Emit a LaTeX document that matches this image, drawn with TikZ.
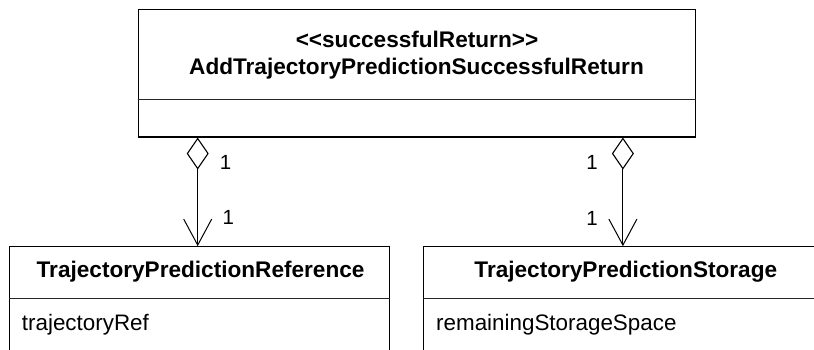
\documentclass[tikz,border=0pt]{standalone}
\usepackage{fontspec}
\setmainfont{Liberation Sans}
\usetikzlibrary{arrows.meta}
\begin{document}
\begin{tikzpicture}[x=1pt,y=-1pt,
  box/.style={draw=black,line width=1.1pt,minimum width=#1,inner sep=0pt,fill=none},
  clsname/.style={font=\fontsize{22.6}{27}\selectfont\bfseries,anchor=base,inner sep=0pt},
  attr/.style={font=\fontsize{22.4}{27}\selectfont,anchor=base west,inner sep=0pt},
  mult/.style={font=\fontsize{20.5}{24}\selectfont,inner sep=0pt},
  agg/.style={line width=1pt,{Diamond[open,length=32pt,width=22pt,line width=1.1pt]}-{Straight Barb[length=26pt,width=28pt,line width=1pt]}}
]
\useasboundingbox (0,0) rectangle (814,349);
\clip (0,0) rectangle (814,349);
\fill[white] (0,0) rectangle (814,349);
% top class
\node[box=557.7pt,minimum height=127.7pt] (ret) at (417,73.15) {};
\draw[line width=1pt,draw=black!85] (ret.west |- 0,99) coordinate (rdl) -- (ret.east |- 0,99) coordinate (rdr);
\node[clsname] (st) at (417,47) {{<}{<}successfulReturn{>}{>}};
\node[clsname] (rn) at (416.5,74.3) {AddTrajectoryPredictionSuccessfulReturn};
% bottom left class
\node[box=380pt,minimum height=110pt] (ref) at (199.3,301.7) {};
\draw[line width=1pt,draw=black!85] (ref.west |- 0,298.7) -- (ref.east |- 0,298.7);
\node[clsname] (refn) at (200.6,277.3) {TrajectoryPredictionReference};
\node[attr] (refa) at (21.7,330) {trajectoryRef};
% bottom right class
\node[box=404pt,minimum height=110pt] (sto) at (625.7,301.7) {};
\draw[line width=1pt,draw=black!85] (sto.west |- 0,298.7) -- (sto.east |- 0,298.7);
\node[clsname] (ston) at (625.8,277.3) {TrajectoryPredictionStorage};
\node[attr] (stoa) at (436,330) {remainingStorageSpace};
% connectors
\coordinate (lx) at (197.7,0);
\coordinate (rx) at (622.9,0);
\draw[agg] (ret.south -| lx) -- (ref.north -| lx);
\draw[agg] (ret.south -| rx) -- (sto.north -| rx);
% multiplicities
\node[mult] (m1) at (225.5,162) {1};
\node[mult] (m2) at (228.3,217.5) {1};
\node[mult] (m3) at (592,162) {1};
\node[mult] (m4) at (592,218) {1};
\end{tikzpicture}
\end{document}
